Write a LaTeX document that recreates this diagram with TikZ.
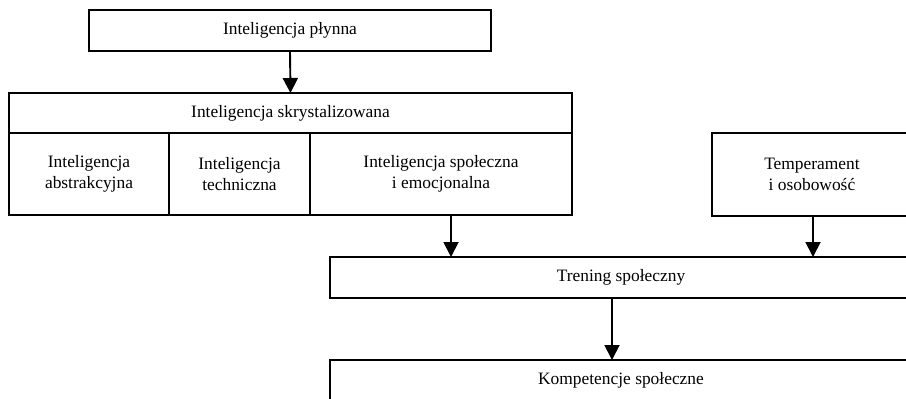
\documentclass[tikz,border=0pt]{standalone}
\usepackage{fontspec}
\setmainfont{Liberation Serif}
\usetikzlibrary{arrows.meta}
\begin{document}
\begin{tikzpicture}[x=1pt,y=-1pt,
  box/.style={draw,line width=1.9pt,rectangle,inner sep=0pt,outer sep=0pt,align=center,
    font=\fontsize{17.4}{21}\selectfont},
  arr/.style={line width=1.9pt,-{Triangle[width=15pt,length=15pt]}}]
\useasboundingbox (0,0) rectangle (906,399);
\clip (0,0) rectangle (906,399);
\fill[white] (0,0) rectangle (906,399);
% boxes
\node[box,minimum width=402pt,minimum height=41pt] (plyn) at (290,30.5) {Inteligencja płynna};
\node[box,minimum width=563pt,minimum height=40pt] (kryst) at (290.5,113) {Inteligencja skrystalizowana};
\node[box,minimum width=160pt,minimum height=82pt] (abst) at (89,174) {Inteligencja\\abstrakcyjna};
\node[box,minimum width=141pt,minimum height=82pt] (tech) at (239.5,174) {Inteligencja\\techniczna};
\node[box,minimum width=262pt,minimum height=82pt] (emo) at (441,174) {Inteligencja społeczna\\i emocjonalna};
\node[box,minimum width=200pt,minimum height=83pt] (temp) at (812,174.5) {Temperament\\i osobowość};
\node[box,minimum width=582pt,minimum height=41pt] (tren) at (621,277.5) {Trening społeczny};
\node[box,minimum width=582pt,minimum height=42pt,anchor=north] (komp) at (621,360) {};
\node[font=\fontsize{17.4}{21}\selectfont] (kompt) at (621,380) {Kompetencje społeczne};
% connectors
\draw[arr] (plyn.south) -- (kryst.north);
\draw[arr] ([xshift=10pt]emo.south) -- ([xshift=10pt]emo.south |- tren.north);
\draw[arr] ([xshift=1pt]temp.south) -- ([xshift=1pt]temp.south |- tren.north);
\draw[arr] ([xshift=-9pt]tren.south) -- ([xshift=-9pt]tren.south |- komp.north);
\end{tikzpicture}
\end{document}
